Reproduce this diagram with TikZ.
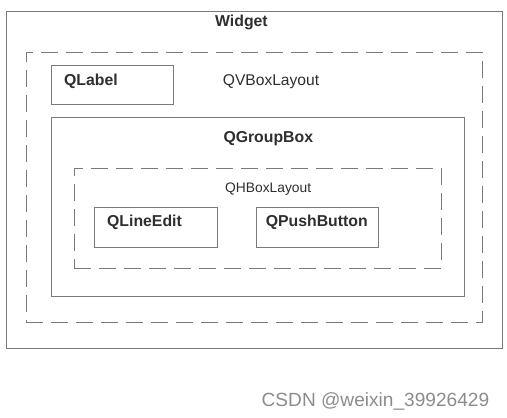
\documentclass[tikz,border=0pt]{standalone}
\usepackage{fontspec}
\setmainfont{Liberation Sans}
\definecolor{linegray}{HTML}{7A7A7A}
\definecolor{textdark}{HTML}{2E2E2E}
\definecolor{markgray}{HTML}{8C8C8C}
\begin{document}
\begin{tikzpicture}[x=1pt, y=-1pt,
        box/.style={rectangle, draw=linegray, line width=1pt, inner sep=0pt},
        layout/.style={box, dash pattern=on 17pt off 8pt},
        title/.style={anchor=base west, font=\fontsize{15.8}{18}\selectfont\bfseries, text=textdark, inner sep=0pt},
        note/.style={anchor=base west, font=\fontsize{15.6}{18}\selectfont, text=textdark, inner sep=0pt}]
        \useasboundingbox (0,0) rectangle (507,418);
        \node[box, minimum width=496pt, minimum height=337pt] (widget) at (254,179.5) {};
        \node[layout, minimum width=456pt, minimum height=270pt] (vbox) at (254,187) {};
        \node[box, minimum width=122pt, minimum height=39pt] (label) at (112,84.5) {};
        \node[box, minimum width=413pt, minimum height=179pt] (group) at (257.5,206.5) {};
        \node[layout, minimum width=367pt, minimum height=100pt] (hbox) at (257.5,218) {};
        \node[box, minimum width=123pt, minimum height=40pt] (edit) at (155.5,227) {};
        \node[box, minimum width=122pt, minimum height=40pt] (button) at (317,227) {};
        \node[title] (widgettext) at (215,26) {Widget};
        \node[title] (labeltext) at (64,85) {QLabel};
        \node[note] (vboxtext) at (222.7,85) {QVBoxLayout};
        \node[title] (grouptext) at (223.3,142.7) {QGroupBox};
        \node[note, font=\fontsize{13.8}{16}\selectfont] (hboxtext) at (225,192.7) {QHBoxLayout};
        \node[title] (edittext) at (107,226.7) {QLineEdit};
        \node[title] (buttontext) at (265.7,226.7) {QPushButton};
        \node[anchor=base west, inner sep=0pt, text=markgray, font=\fontsize{19.1}{21}\selectfont] (mark) at (261.5,406) {CSDN @weixin\_39926429};
    \end{tikzpicture}
\end{document}
